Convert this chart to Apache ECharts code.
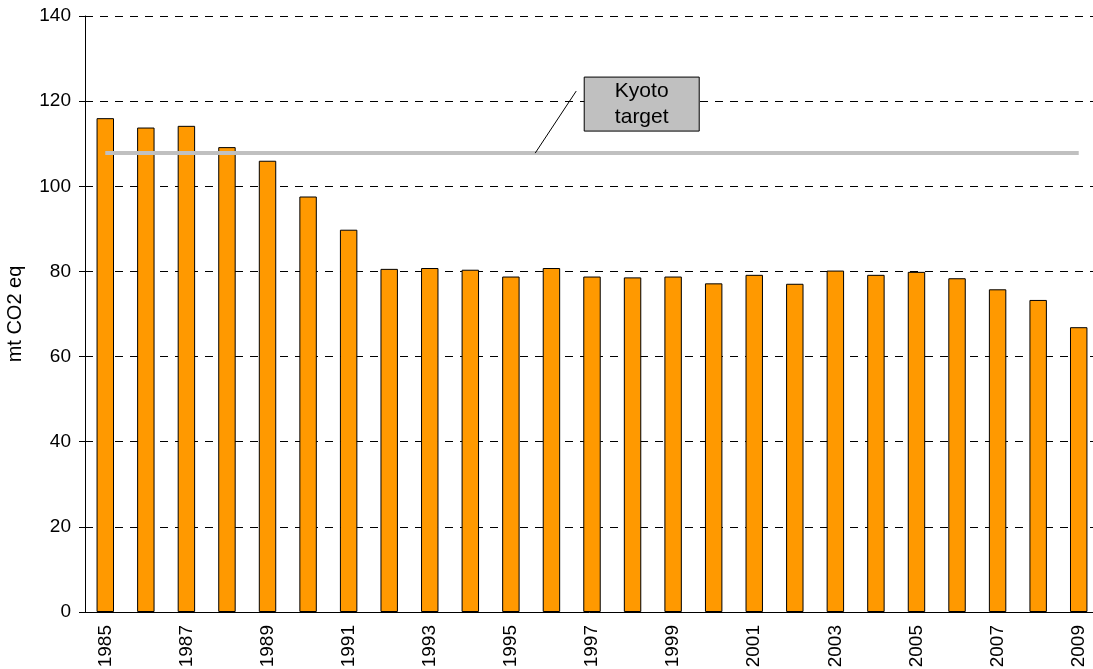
<!DOCTYPE html>
<html>
<head>
<meta charset="utf-8">
<script src="https://cdn.jsdelivr.net/npm/echarts@6/dist/echarts.min.js"></script>
<style>
html, body { margin: 0; padding: 0; background: #fff; }
#chart { width: 1093px; height: 669px; }
</style>
</head>
<body>
<div id="chart"></div>
<script>
// data
const years = ['1985', '1986', '1987', '1988', '1989', '1990', '1991', '1992', '1993', '1994',
	'1995', '1996', '1997', '1998', '1999', '2000', '2001', '2002', '2003', '2004',
	'2005', '2006', '2007', '2008', '2009'];
const emissions = [116.0, 113.8, 114.2, 109.2, 106.0, 97.6, 89.8, 80.6, 80.8, 80.4,
	78.8, 80.8, 78.8, 78.6, 78.8, 77.2, 79.2, 77.1, 80.2, 79.2,
	79.9, 78.4, 75.8, 73.3, 66.9];
const kyotoTarget = 107.8;
const kyotoLine = years.map(() => kyotoTarget);
const yTicks = [0, 20, 40, 60, 80, 100, 120, 140];

const font = 'Liberation Sans, Arial, sans-serif';
let myEcharts = echarts.init(document.getElementById('chart'));
let option = {
	animation: false,
	textStyle: { fontFamily: font },
	// plot runs a few px past the right edge of the picture
	grid: { left: 85, top: 16, width: 1014, height: 596, containLabel: false, outerBoundsMode: 'none' },
	xAxis: {
		type: 'category',
		data: years,
		boundaryGap: true,
		axisLine: { lineStyle: { color: '#000', width: 1 } },
		axisTick: { length: 5, lineStyle: { color: '#000' }, interval: 0 },
		axisLabel: { rotate: 90, interval: 1, margin: 13, fontSize: 19, color: '#000', fontFamily: font },
		splitLine: { show: false }
	},
	yAxis: {
		type: 'value',
		min: yTicks[0],
		max: yTicks[yTicks.length - 1],
		interval: 20,
		name: 'mt CO2 eq',
		nameLocation: 'middle',
		nameGap: 60,
		nameTextStyle: { fontSize: 20, color: '#000', fontFamily: font },
		axisLine: { show: true, lineStyle: { color: '#000', width: 1 } },
		axisTick: { show: true, length: 6, lineStyle: { color: '#000' } },
		axisLabel: { margin: 14, fontSize: 19, color: '#000', fontFamily: font },
		splitLine: { lineStyle: { color: '#000', width: 1, type: [8, 7] } }
	},
	series: [
		{
			name: 'Emissions',
			type: 'bar',
			data: emissions,
			barWidth: '43%',
			itemStyle: { color: '#ff9900', borderColor: '#000', borderWidth: 1 }
		},
		{
			name: 'Kyoto target',
			type: 'line',
			data: kyotoLine,
			symbol: 'none',
			lineStyle: { color: '#c0c0c0', width: 4 },
			z: 3
		}
	]
};
myEcharts.setOption(option);

// callout box for the Kyoto line, anchored between 1995 and 1996
const p10 = myEcharts.convertToPixel({ xAxisIndex: 0, yAxisIndex: 0 }, [10, kyotoTarget]);
const p11 = myEcharts.convertToPixel({ xAxisIndex: 0, yAxisIndex: 0 }, [11, kyotoTarget]);
const px = p10[0] + 0.6 * (p11[0] - p10[0]), py = p10[1];
const bx = px + 49, by = py - 76;
myEcharts.setOption({
	graphic: [
		{ type: 'line', shape: { x1: px, y1: py, x2: px + 41, y2: py - 62 }, style: { stroke: '#000', lineWidth: 1 }, z: 10 },
		{ type: 'rect', shape: { x: bx, y: by, width: 115, height: 54 }, style: { fill: '#c0c0c0', stroke: '#000', lineWidth: 1 }, z: 10 },
		{ type: 'text', x: bx + 57.5, y: by + 27, style: { text: 'Kyoto\ntarget', fill: '#000', font: '21px ' + font, align: 'center', verticalAlign: 'middle', lineHeight: 26 }, z: 11 }
	]
});
</script>
</body>
</html>
